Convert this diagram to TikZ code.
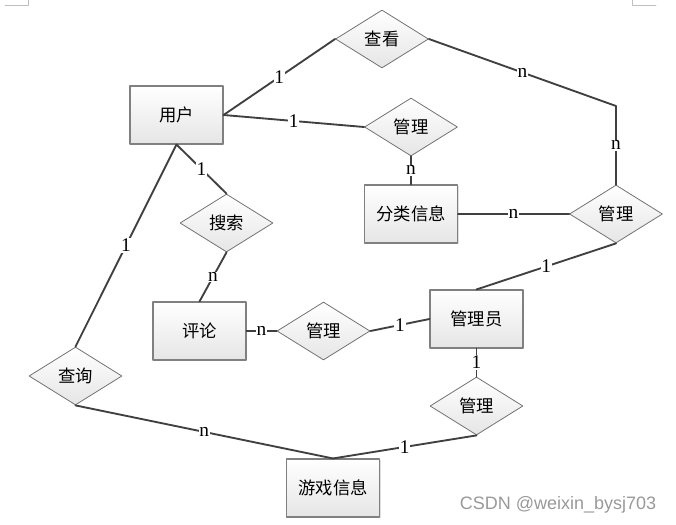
\documentclass[tikz,border=0pt]{standalone}
\usepackage{fontspec}
\setmainfont{Liberation Serif}
\setsansfont{Liberation Sans}
\newfontfamily\cjk{Noto Sans CJK SC}
\usetikzlibrary{shapes.geometric,shadows}

\begin{document}
\begin{tikzpicture}[x=0.75pt,y=-0.75pt, line join=round, line cap=round,
	font=\fontsize{13}{15}\selectfont,
	entity/.style={draw=black!50, line width=0.8pt, top color=white, bottom color=black!10,
		minimum width=69.75pt, minimum height=43.5pt, inner sep=0pt,
		font=\cjk\fontsize{13}{15}\selectfont,
		drop shadow={shadow xshift=1pt, shadow yshift=-1pt, opacity=0.25}},
	rel/.style={diamond, aspect=1.6, draw=black!55, line width=0.6pt, top color=white, bottom color=black!10,
		minimum width=69.75pt, minimum height=43.5pt, inner sep=0pt,
		font=\cjk\fontsize{13}{15}\selectfont},
	link/.style={draw=black!75, line width=1.4pt},
	card/.style={fill=white, inner sep=0.6pt, font=\fontsize{14.5}{15}\selectfont}]
	\useasboundingbox (0,0) rectangle (676,525);
	% page corner marks
	\draw[black!25, line width=0.5pt] (5,5)--(28,5)--(28,0);
	\draw[black!25, line width=0.5pt] (656,5)--(632,5)--(632,0);
	% entities
	\node[entity] (user) at (176.5,115) {用户};
	\node[entity] (cat) at (411,214) {分类信息};
	\node[entity] (comment) at (199.5,331) {评论};
	\node[entity] (admin) at (476.5,319) {管理员};
	\node[entity] (game) at (333,488) {游戏信息};
	% relations
	\node[rel] (view) at (382,39) {查看};
	\node[rel] (mgrA) at (411,127) {管理};
	\node[rel] (mgrB) at (616,214) {管理};
	\node[rel] (search) at (226.5,223) {搜索};
	\node[rel] (mgrC) at (323.5,331) {管理};
	\node[rel] (query) at (75.5,376) {查询};
	\node[rel] (mgrD) at (476.5,406) {管理};
	\coordinate (bend) at (616,106);
	% links
	\draw[link] (user.east) -- node[card]{1} (view.west);
	\draw[link] (user.east) -- node[card]{1} (mgrA.west);
	\draw[link] (user.south) -- node[card]{1} (search.north);
	\draw[link] (user.south) -- node[card]{1} (query.north);
	\draw[link] (view.east) -- node[card]{n} (bend) -- node[card]{n} (mgrB.north);
	\draw[link] (mgrA.south) -- node[card]{n} (cat.north);
	\draw[link] (cat.east) -- node[card]{n} (mgrB.west);
	\draw[link] (mgrB.south) -- node[card]{1} (admin.north);
	\draw[link] (search.south) -- node[card]{n} (comment.north);
	\draw[link] (comment.east) -- node[card]{n} (mgrC.west);
	\draw[link] (mgrC.east) -- node[card]{1} (admin.west);
	\draw[link] (admin.south) -- node[card]{1} (mgrD.north);
	\draw[link] (mgrD.south) -- node[card]{1} (game.north);
	\draw[link] (query.south) -- node[card]{n} (game.north);
	\node[text=black!40, font=\sffamily\fontsize{13.5}{15}\selectfont] (mark) at (558,505) {CSDN @weixin\_bysj703};
\end{tikzpicture}
\end{document}
